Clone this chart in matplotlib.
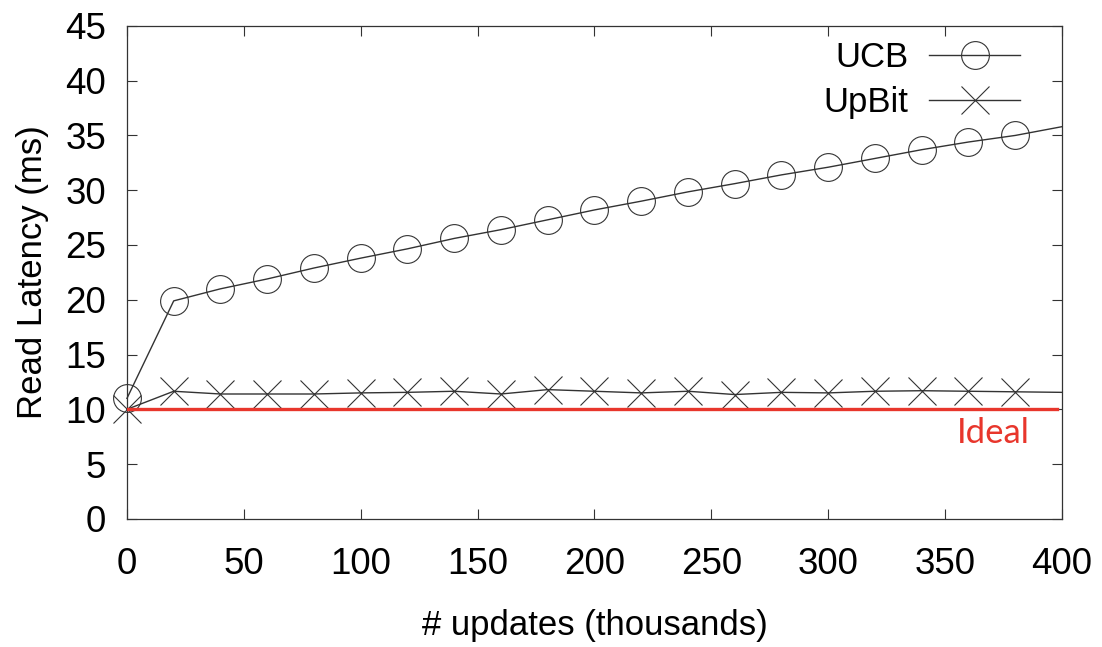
import matplotlib
matplotlib.use("Agg")
import matplotlib.pyplot as plt
import numpy as np

# x positions (thousands of updates)
updates = [0, 20, 40, 60, 80, 100, 120, 140, 160, 180, 200,
           220, 240, 260, 280, 300, 320, 340, 360, 380, 400]

ucb = [11.0, 19.9, 21.0, 21.9, 22.9, 23.8, 24.65, 25.6, 26.4, 27.3, 28.2,
       29.0, 29.85, 30.6, 31.4, 32.1, 32.9, 33.7, 34.4, 35.0, 35.8]

upbit = [10.0, 11.65, 11.4, 11.4, 11.4, 11.5, 11.55, 11.65, 11.4, 11.8, 11.65,
         11.5, 11.65, 11.35, 11.55, 11.5, 11.65, 11.7, 11.65, 11.6, 11.55]

ideal_x = [0, 398]
ideal_y = [10, 10]

xticks = [0, 50, 100, 150, 200, 250, 300, 350, 400]
yticks = [0, 5, 10, 15, 20, 25, 30, 35, 40, 45]

plt.rcParams['font.family'] = ['Liberation Sans', 'DejaVu Sans']

fig = plt.figure(figsize=(11.02, 6.47), dpi=100)
ax = fig.add_axes([0.1152, 0.198, 0.8485, 0.762])

marked = list(range(20))  # no marker drawn at x=400
ax.plot(updates, ucb, color="#333333", lw=1.0, marker="o", markersize=20,
        markerfacecolor="none", markeredgewidth=0.8, markevery=marked,
        label="UCB", clip_on=False, zorder=3)
ax.plot(updates, upbit, color="#333333", lw=1.0, marker="x", markersize=20,
        markeredgewidth=0.8, markevery=marked, label="UpBit",
        clip_on=False, zorder=3)
ax.plot(ideal_x, ideal_y, color="#e8362c", lw=2.4, zorder=4)
ax.text(355, 7.8, "Ideal", color="#e8362c", fontsize=25,
        family=["Lato", "DejaVu Sans"], va="center", ha="left")

ax.set_xlim(0, 400)
ax.set_ylim(0, 45)
ax.set_xticks(xticks)
ax.set_yticks(yticks)
ax.tick_params(direction="in", length=7, width=0.8, top=True, right=True,
               labelsize=26.5, color="#333333")
ax.tick_params(axis="x", pad=20)
ax.tick_params(axis="y", pad=15)
for s in ax.spines.values():
    s.set_linewidth(0.9)
    s.set_color("#333333")

ax.set_xlabel("# updates (thousands)", fontsize=25, labelpad=20)
ax.set_ylabel("Read Latency (ms)", fontsize=25, labelpad=12)

ax.legend(loc="upper right", frameon=False, markerfirst=False, fontsize=25,
          handlelength=2.6, handletextpad=0.6, labelspacing=0.35,
          borderaxespad=0.2, bbox_to_anchor=(0.977, 1.012))

fig.savefig("out.png", dpi=100)
